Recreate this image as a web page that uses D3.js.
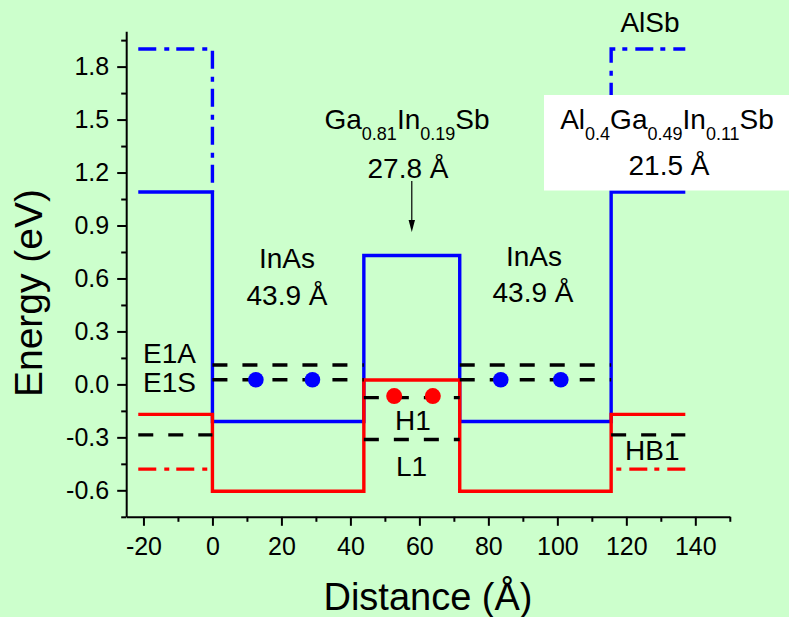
<!DOCTYPE html>
<html>
<head>
<meta charset="utf-8">
<script src="https://cdn.jsdelivr.net/npm/d3@7/dist/d3.min.js"></script>
<style>
  html, body { margin: 0; padding: 0; background: #ccffcc; }
  svg { display: block; }
  text { font-family: "Liberation Sans", Arial, Helvetica, sans-serif; fill: #000; }
</style>
</head>
<body>
<svg id="chart" width="789" height="617"></svg>
<script>
// ---- Layer stack (growth direction, widths in Å) ----
const layerWidths = [21.5, 43.9, 27.8, 43.9, 21.5];   // AlGaInSb | InAs | GaInSb | InAs | AlGaInSb
const stackStart = -21.5;

// ---- Band edges per layer (eV) ----
const conductionBand = [1.09, -0.21, 0.73, -0.21, 1.09];
const valenceBand    = [-0.17, -0.605, 0.025, -0.605, -0.17];

// AlSb cladding band edges, drawn over the outer barriers
const alsbConduction = 1.9;
const alsbValence = -0.48;

// ---- Confined levels (eV) and the layers each one spans ----
const levelNames    = ["E1A", "E1S", "H1", "L1", "HB1"];
const levelEnergies = [0.11, 0.026, -0.075, -0.312, -0.286];
const levelLayers   = [[1, 3], [1, 3], [2], [2], [0, 4]];

// ---- Carriers ----
const electronX = [12.6, 29.0, 83.6, 101.0];
const electronE = 0.026;
const holeX = [52.7, 63.9];
const holeE = -0.066;

// ---- Axes ----
const xDomain = [-25, 150];
const yDomain = [-0.75, 2.0];
const xTicks = [-20, 0, 20, 40, 60, 80, 100, 120, 140];
const xMinorTicks = [-10, 10, 30, 50, 70, 90, 110, 130, 150];
const yTicks = [-0.6, -0.3, 0.0, 0.3, 0.6, 0.9, 1.2, 1.5, 1.8];
const yMinorTicks = [-0.75, -0.45, -0.15, 0.15, 0.45, 0.75, 1.05, 1.35, 1.65, 1.95];

// layer boundaries from the widths
const edges = [stackStart];
layerWidths.forEach(w => edges.push(+(edges[edges.length - 1] + w).toFixed(2)));

const svg = d3.select("#chart");
const W = 789, H = 617;
svg.append("rect").attr("width", W).attr("height", H).attr("fill", "#ccffcc");

const x = d3.scaleLinear().domain(xDomain).range([126.2, 729.8]);
const y = d3.scaleLinear().domain(yDomain).range([516.8, 31.3]);

const line = d3.line().x(d => x(d[0])).y(d => y(d[1]));
const step = d3.line().x(d => x(d[0])).y(d => y(d[1])).curve(d3.curveStepAfter);

const BLUE = "#0000ff", RED = "#ff0000";
const dashDot = "18,8,5,7";
const dashed = "15,15";
const lw = 3.4;

const plot = svg.append("g");

// conduction band profile
const cbPts = conductionBand.map((v, i) => [edges[i], v]);
cbPts.push([edges[edges.length - 1], conductionBand[conductionBand.length - 1]]);
plot.append("path").attr("d", step(cbPts))
  .attr("fill", "none").attr("stroke", BLUE).attr("stroke-width", lw);

// AlSb conduction band edge (dash-dot)
const n = edges.length - 1;
plot.append("path")
  .attr("d", line([[edges[0], alsbConduction], [edges[1], alsbConduction], [edges[1], conductionBand[0]]]))
  .attr("fill", "none").attr("stroke", BLUE).attr("stroke-width", lw).attr("stroke-dasharray", dashDot);
plot.append("path")
  .attr("d", line([[edges[n], alsbConduction], [edges[n - 1], alsbConduction], [edges[n - 1], conductionBand[n - 1]]]))
  .attr("fill", "none").attr("stroke", BLUE).attr("stroke-width", lw).attr("stroke-dasharray", dashDot)
  .attr("stroke-dashoffset", 6);

// valence band profile
const vbPts = valenceBand.map((v, i) => [edges[i], v]);
vbPts.push([edges[edges.length - 1], valenceBand[valenceBand.length - 1]]);
plot.append("path").attr("d", step(vbPts))
  .attr("fill", "none").attr("stroke", RED).attr("stroke-width", lw);

// AlSb valence band edge (dash-dot)
plot.append("path")
  .attr("d", line([[edges[0], alsbValence], [edges[1], alsbValence]]))
  .attr("fill", "none").attr("stroke", RED).attr("stroke-width", lw).attr("stroke-dasharray", dashDot);
plot.append("path")
  .attr("d", line([[edges[n], alsbValence], [edges[n - 1], alsbValence]]))
  .attr("fill", "none").attr("stroke", RED).attr("stroke-width", lw).attr("stroke-dasharray", dashDot);

// confined levels
levelEnergies.forEach((e, k) => {
  levelLayers[k].forEach(li => {
    plot.append("path")
      .attr("d", line([[edges[li], e], [edges[li + 1], e]]))
      .attr("fill", "none").attr("stroke", "#000").attr("stroke-width", lw)
      .attr("stroke-dasharray", dashed);
  });
});

// carriers
plot.selectAll("circle.el").data(electronX).join("circle").attr("class", "el")
  .attr("cx", d => x(d)).attr("cy", y(electronE)).attr("r", 7.8).attr("fill", BLUE);
plot.selectAll("circle.hole").data(holeX).join("circle").attr("class", "hole")
  .attr("cx", d => x(d)).attr("cy", y(holeE)).attr("r", 8).attr("fill", RED);

// white label box for the barrier composition
svg.append("rect").attr("x", 544).attr("y", 95).attr("width", W - 544).attr("height", 95.5)
  .attr("fill", "#ffffff");

// ---- axes ----
function styleAxis(g) {
  g.attr("font-size", null).attr("font-family", null);
  g.selectAll("path.domain").attr("stroke", "#000").attr("stroke-width", 2);
  g.selectAll(".tick line").attr("stroke", "#000").attr("stroke-width", 2);
  g.selectAll(".tick text").style("font-size", "25px");
}

const yAxis = svg.append("g").attr("transform", `translate(${x(xDomain[0])},0)`)
  .call(d3.axisLeft(y).tickValues(yTicks).tickSize(9).tickPadding(8).tickSizeOuter(0)
    .tickFormat(d => d.toFixed(1)));
styleAxis(yAxis);
const yMinor = svg.append("g").attr("transform", `translate(${x(xDomain[0])},0)`)
  .call(d3.axisLeft(y).tickValues(yMinorTicks).tickSize(5).tickFormat(""));
yMinor.select("path.domain").remove();
styleAxis(yMinor);

const xAxis = svg.append("g").attr("transform", `translate(0,${y(yDomain[0])})`)
  .call(d3.axisBottom(x).tickValues(xTicks).tickSize(9).tickPadding(11).tickSizeOuter(0)
    .tickFormat(d => String(d)));
styleAxis(xAxis);
const xMinor = svg.append("g").attr("transform", `translate(0,${y(yDomain[0])})`)
  .call(d3.axisBottom(x).tickValues(xMinorTicks).tickSize(5).tickFormat(""));
xMinor.select("path.domain").remove();
styleAxis(xMinor);

// axis titles
svg.append("text").attr("x", 428).attr("y", 610).attr("text-anchor", "middle")
  .style("font-size", "38px").text("Distance (Å)");
svg.append("text").attr("transform", "translate(42,293) rotate(-90)").attr("text-anchor", "middle")
  .style("font-size", "39px").text("Energy (eV)");

// ---- annotations ----
const big = "28px", sub = "18px", subShift = 11;

function plainLabel(t, px, py, anchor) {
  svg.append("text").attr("x", px).attr("y", py).attr("text-anchor", anchor || "middle")
    .style("font-size", big).text(t);
}
// formula with subscripts: parts = [[text, isSub], ...]
function formulaLabel(parts, px, py) {
  const t = svg.append("text").attr("x", px).attr("y", py).attr("text-anchor", "middle")
    .style("font-size", big);
  let low = false;
  parts.forEach(([s, isSub]) => {
    const dy = isSub && !low ? subShift : (!isSub && low ? -subShift : 0);
    low = isSub;
    t.append("tspan").attr("dy", dy).style("font-size", isSub ? sub : big).text(s);
  });
}

plainLabel("InAs", 287, 268);
plainLabel(`${layerWidths[1]} Å`, 287, 305);
plainLabel("InAs", 534, 266);
plainLabel(`${layerWidths[3]} Å`, 533, 302);

formulaLabel([["Ga", false], ["0.81", true], ["In", false], ["0.19", true], ["Sb", false]], 407, 129);
plainLabel(`${layerWidths[2]} Å`, 408, 178);

formulaLabel([["Al", false], ["0.4", true], ["Ga", false], ["0.49", true], ["In", false], ["0.11", true], ["Sb", false]], 667, 129);
plainLabel(`${layerWidths[4]} Å`, 669, 175);

plainLabel("AlSb", 650, 32);

plainLabel(levelNames[0], 143, 363, "start");
plainLabel(levelNames[1], 143, 392, "start");
plainLabel(levelNames[2], 395, 430, "start");
plainLabel(levelNames[3], 396, 476, "start");
plainLabel(levelNames[4], 625, 460, "start");

// arrow pointing at the GaInSb layer
const ax = x(edges[2] + layerWidths[2] / 2);
const tipY = 232;
svg.append("line").attr("x1", ax).attr("x2", ax).attr("y1", 181).attr("y2", tipY - 6)
  .attr("stroke", "#000").attr("stroke-width", 1.2);
svg.append("path")
  .attr("d", `M${ax},${tipY} L${ax - 3.2},${tipY - 12} L${ax + 3.2},${tipY - 12} Z`)
  .attr("fill", "#000");
</script>
</body>
</html>
